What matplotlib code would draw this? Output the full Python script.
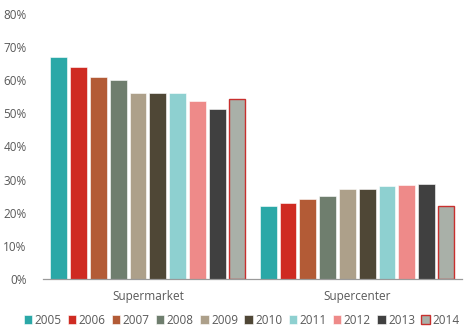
import matplotlib

matplotlib.use("Agg")
import matplotlib.pyplot as plt
import numpy as np

plt.rcParams["font.family"] = ["Open Sans", "DejaVu Sans"]

categories = ["Supermarket", "Supercenter"]
years = ["2005", "2006", "2007", "2008", "2009",
         "2010", "2011", "2012", "2013", "2014"]
supermarket = [67.1, 64.1, 61.1, 60.1, 56.1, 56.1, 56.1, 53.8, 51.4, 54.4]
supercenter = [22.0, 23.0, 24.0, 25.0, 27.1, 27.1, 28.0, 28.4, 28.8, 21.9]

colors = ["#2BA8A7", "#CF2B22", "#B35B36", "#6F7E6E", "#ADA08A",
          "#4F4736", "#8ED0D0", "#EE8A89", "#404040", "#A9B0A8"]
edge_2014 = "#C8302E"
text_grey = "#595959"

fig = plt.figure(figsize=(4.69, 3.31), dpi=100)
ax = fig.add_axes([0.092, 0.157, 0.893, 0.801])

x = np.arange(len(categories))
slot = 0.945 / len(years)
for i, yr in enumerate(years):
    vals = [supermarket[i], supercenter[i]]
    offs = x - 0.945 / 2 + slot * (i + 0.5)
    if yr == "2014":
        ax.bar(offs, vals, width=slot * 0.8, color=colors[i],
               edgecolor=edge_2014, linewidth=1.0, label=yr)
    else:
        ax.bar(offs, vals, width=slot * 0.85, color=colors[i],
               edgecolor="white", linewidth=0.4, label=yr)

ax.set_xlim(-0.5, 1.5)
ax.set_ylim(0, 80)
ax.set_yticks(range(0, 81, 10))
ax.set_yticklabels([f"{v}%" for v in range(0, 81, 10)])
ax.set_xticks(x)
ax.set_xticklabels(categories)

for side in ["top", "right", "left"]:
    ax.spines[side].set_visible(False)
ax.spines["bottom"].set_color("#9a9a9a")
ax.spines["bottom"].set_linewidth(0.9)
ax.tick_params(axis="y", length=0, labelsize=8.5, colors=text_grey, pad=12)
ax.tick_params(axis="x", length=0, labelsize=8.5, colors=text_grey, pad=8)

fig.legend(loc="center", bbox_to_anchor=(0.515, 0.033), ncol=10,
           frameon=False, fontsize=8.5, labelcolor=text_grey,
           handlelength=0.7, handleheight=0.7, handletextpad=0.2,
           columnspacing=0.55, borderaxespad=0)

fig.savefig("out.png", dpi=100)
